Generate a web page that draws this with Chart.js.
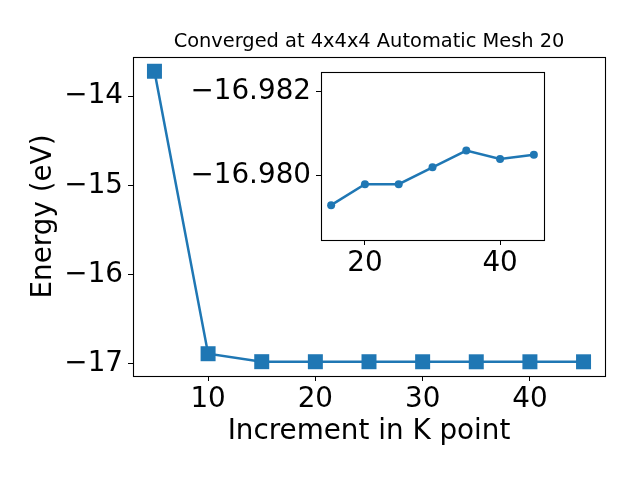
<!DOCTYPE html>
<html>
<head>
<meta charset="utf-8">
<script src="https://cdn.jsdelivr.net/npm/chart.js@4"></script>
<style>
  body { margin: 0; background: #fff; }
  #wrap { position: relative; width: 640px; height: 480px; }
  #main { position: absolute; left: 0; top: 0; }
  #inset { position: absolute; left: 150px; top: 50px; }
</style>
</head>
<body>
<div id="wrap">
  <canvas id="main" width="640" height="480"></canvas>
  <canvas id="inset" width="420" height="240"></canvas>
</div>
<script>
const kPoints = [5, 10, 15, 20, 25, 30, 35, 40, 45];
const energy = [-13.72, -16.89, -16.9793, -16.9798, -16.9798, -16.9802, -16.9806, -16.9804, -16.9805];
const kInset = kPoints.slice(2);
const energyInset = energy.slice(2);
const mainTicksY = [-17, -16, -15, -14];
const insetTicksY = [-16.982, -16.980];
const titleText = 'Converged at 4x4x4 Automatic Mesh 20';

const blue = '#1f77b4';
const font = 'DejaVu Sans';
const big = 27.8;

function minus(v, digits) {
    const s = Math.abs(v).toFixed(digits);
    return (v < 0 ? '\u2212' : '') + s;
}

// box around the plot area, like matplotlib spines
const frame = {
    id: 'frame',
    beforeDatasetsDraw(chart, args, opts) {
        if (opts.fill) {
            const a = chart.chartArea;
            chart.ctx.save();
            chart.ctx.fillStyle = '#fff';
            chart.ctx.fillRect(a.left, a.top, a.right - a.left, a.bottom - a.top);
            chart.ctx.restore();
        }
    },
    afterDraw(chart, args, opts) {
        const a = chart.chartArea;
        const ctx = chart.ctx;
        ctx.save();
        ctx.strokeStyle = '#000';
        ctx.lineWidth = 1.1;
        ctx.strokeRect(Math.round(a.left) + 0.5, Math.round(a.top) + 0.5,
            Math.round(a.right - a.left), Math.round(a.bottom - a.top));
        // title centred over the axes, not the whole canvas
        if (opts.title) {
            ctx.fillStyle = '#000';
            ctx.font = '19.4px "DejaVu Sans"';
            ctx.textAlign = 'center';
            ctx.textBaseline = 'middle';
            ctx.fillText(opts.title, (a.left + a.right) / 2, 42);
        }
        ctx.restore();
    }
};

const ctx1 = document.getElementById('main').getContext('2d');
const ctx2 = document.getElementById('inset').getContext('2d');

const mainChart = new Chart(ctx1, {
    type: 'line',
    data: {
        datasets: [{
            data: kPoints.map((k, i) => ({ x: k, y: energy[i] })),
            borderColor: blue,
            backgroundColor: blue,
            borderWidth: 2.5,
            pointStyle: 'rect',
            pointRadius: 10.6,
            pointBorderWidth: 0,
            tension: 0
        }]
    },
    options: {
        responsive: false,
        devicePixelRatio: 1,
        animation: false,
        layout: { padding: { left: 0, right: 35, top: 57, bottom: 0 } },
        plugins: {
            legend: { display: false },
            tooltip: { enabled: false },
            title: { display: false },
            frame: { fill: false, title: titleText }
        },
        scales: {
            x: {
                type: 'linear',
                min: 3,
                max: 47,
                afterFit: s => { s.height = 104; },
                grid: { drawOnChartArea: false, drawTicks: true, tickLength: 5, color: '#000' },
                border: { display: true, color: '#000' },
                ticks: {
                    stepSize: 10,
                    includeBounds: false,
                    color: '#000',
                    padding: 2,
                    maxRotation: 0,
                    font: { family: font, size: big }
                },
                title: {
                    display: true,
                    text: 'Increment in K point',
                    color: '#000',
                    font: { family: font, size: big, lineHeight: 1.2 },
                    padding: { top: 0, bottom: 31.3 }
                }
            },
            y: {
                min: -17.14,
                max: -13.56,
                afterFit: s => { s.width = 133; },
                afterBuildTicks: s => { s.ticks = mainTicksY.map(v => ({ value: v })); },
                grid: { drawOnChartArea: false, drawTicks: true, tickLength: 5, color: '#000' },
                border: { display: true, color: '#000' },
                ticks: {
                    color: '#000',
                    padding: 5,
                    font: { family: font, size: big },
                    callback: v => minus(v, 0)
                },
                title: {
                    display: true,
                    text: 'Energy (eV)',
                    color: '#000',
                    font: { family: font, size: big, lineHeight: 1.2 },
                    padding: { top: 27.3, bottom: 0 }
                }
            }
        }
    },
    plugins: [frame]
});

const insetChart = new Chart(ctx2, {
    type: 'line',
    data: {
        datasets: [{
            data: kInset.map((k, i) => ({ x: k, y: energyInset[i] })),
            borderColor: blue,
            backgroundColor: blue,
            borderWidth: 2.5,
            pointStyle: 'circle',
            pointRadius: 4,
            pointBorderWidth: 0,
            tension: 0
        }]
    },
    options: {
        responsive: false,
        devicePixelRatio: 1,
        animation: false,
        layout: { padding: { left: 0, right: 26, top: 22, bottom: 0 } },
        plugins: {
            legend: { display: false },
            tooltip: { enabled: false },
            frame: { fill: true }
        },
        scales: {
            x: {
                type: 'linear',
                min: 13.5,
                max: 46.5,
                afterFit: s => { s.height = 50; },
                grid: { drawOnChartArea: false, drawTicks: true, tickLength: 5, color: '#000' },
                border: { display: true, color: '#000' },
                ticks: {
                    stepSize: 20,
                    includeBounds: false,
                    color: '#000',
                    padding: 2,
                    maxRotation: 0,
                    font: { family: font, size: big }
                }
            },
            y: {
                min: -16.98247,
                max: -16.97847,
                reverse: true,
                afterFit: s => { s.width = 171; },
                afterBuildTicks: s => { s.ticks = insetTicksY.map(v => ({ value: v })); },
                grid: { drawOnChartArea: false, drawTicks: true, tickLength: 5, color: '#000' },
                border: { display: true, color: '#000' },
                ticks: {
                    color: '#000',
                    padding: 5,
                    font: { family: font, size: big },
                    callback: v => minus(v, 3)
                }
            }
        }
    },
    plugins: [frame]
});
</script>
</body>
</html>
